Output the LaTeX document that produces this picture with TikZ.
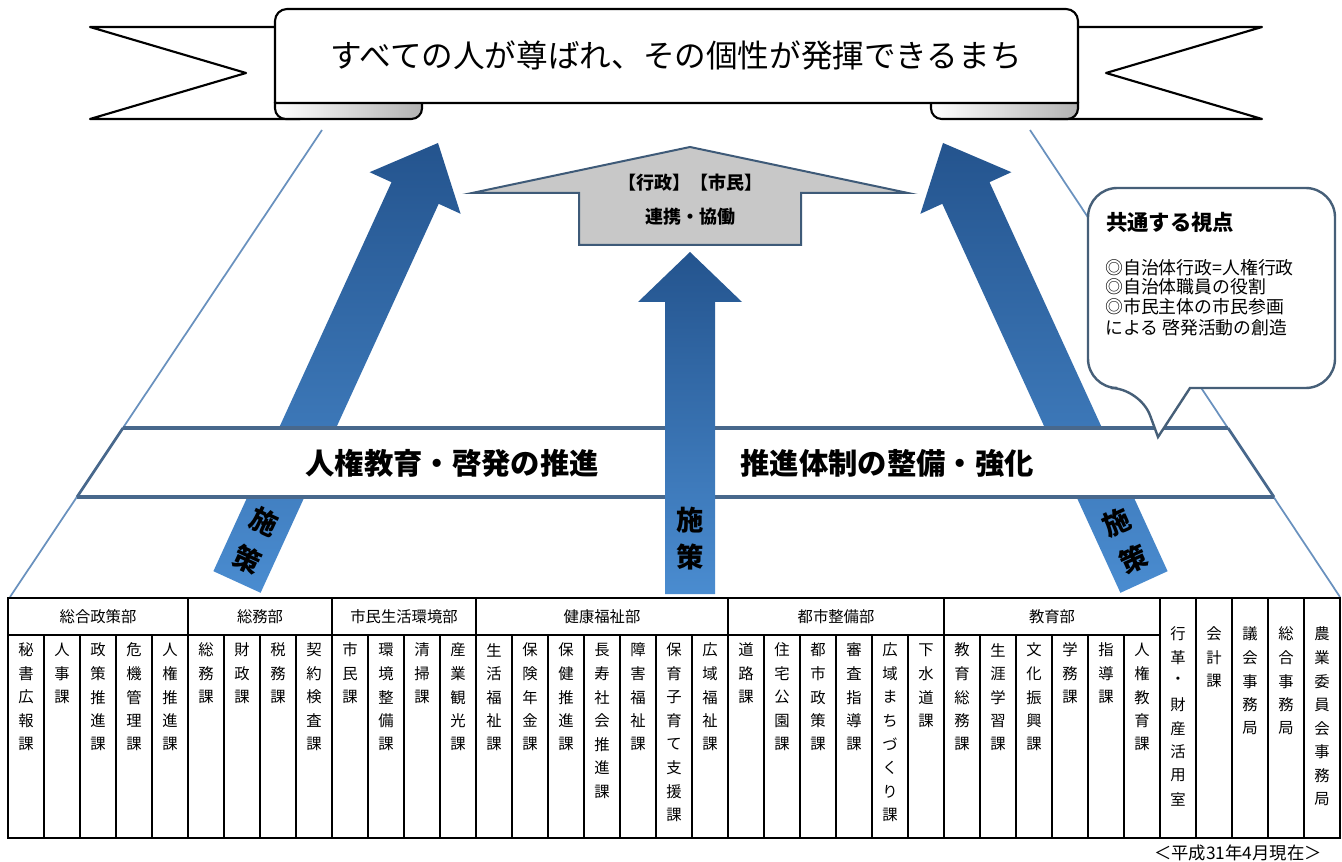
\documentclass[tikz,border=0pt]{standalone}
\usepackage{fontspec}
\setmainfont{Noto Sans CJK JP}
\definecolor{bandline}{RGB}{72,104,140}
\definecolor{lightline}{RGB}{105,145,190}
\definecolor{arrowtop}{RGB}{36,84,142}
\definecolor{arrowbot}{RGB}{74,140,208}
\definecolor{housefill}{RGB}{200,200,200}
\definecolor{houseline}{RGB}{62,90,120}
\definecolor{calloutline}{RGB}{70,95,120}
\begin{document}
\begin{tikzpicture}[x=0.75pt,y=-0.75pt,
  lite/.style={draw=lightline, line width=1.3pt},
  bandedge/.style={draw=bandline, line width=3pt},
  bandside/.style={draw=bandline, line width=2pt},
  bluearrow/.style={top color=arrowtop, bottom color=arrowbot, draw=none},
  house/.style={fill=housefill, draw=houseline, line width=1.5pt},
  callout/.style={fill=white, draw=calloutline, line width=1.8pt},
  ban/.style={fill=white, draw=black, line width=1.6pt, line join=round},
  fold/.style={left color=white, right color=black!30, draw=black, line width=1.6pt},
  gridline/.style={draw=black, line width=1.1pt},
  cell/.style={inner sep=0pt, font=\fontsize{11.5}{13}\selectfont},
  hdr/.style={inner sep=0pt, font=\fontsize{11.5}{13}\selectfont},
  shisaku/.style={inner sep=0pt, font=\bfseries\fontsize{20.5}{22}\selectfont},
  bandtext/.style={inner sep=0pt, font=\bfseries\fontsize{22}{24}\selectfont},
  calltext/.style={inner sep=0pt, anchor=west, font=\fontsize{13.4}{15}\selectfont},
]
\useasboundingbox (0,0) rectangle (1342,862);
\fill[white] (0,0) rectangle (1342,862);

% pyramid side lines
\coordinate (lt) at (322,130); \coordinate (lb) at (10,597);
\coordinate (rt) at (1030,130); \coordinate (rb) at (1340,597);
\draw[lite] (lt) -- (lb);
\draw[lite] (rt) -- (rb);

% slanted arrows (behind band)
\path[bluearrow] (213.4,571.2) -- (391.5,182.2) -- (369.6,172.2) -- (438,143) -- (460.6,213.8) -- (438.7,203.8) -- (260.6,592.8) -- cycle;
\path[bluearrow] (1167.6,571.2) -- (989.5,182.2) -- (1011.4,172.2) -- (943,143) -- (920.4,213.8) -- (942.3,203.8) -- (1120.4,592.8) -- cycle;

% band
\coordinate (b1) at (123,428); \coordinate (b2) at (1228,428);
\coordinate (b3) at (1274,497); \coordinate (b4) at (77,497);
\fill[white] (b1) -- (b2) -- (b3) -- (b4) -- cycle;
\draw[bandside] (b1) -- (b4);
\draw[bandside] (b2) -- (b3);
\draw[bandedge] (b1) -- (b2);
\draw[bandedge] (b4) -- (b3);

% centre arrow (over band)
\path[bluearrow] (665,594) -- (665,302) -- (638,302) -- (690,252) -- (742,302) -- (715,302) -- (715,594) -- cycle;

% house
\draw[house] (690,147) -- (908,193) -- (801,193) -- (801,245) -- (579,245) -- (579,193) -- (472,193) -- cycle;
\node[inner sep=0pt, font=\bfseries\fontsize{13.5}{15}\selectfont] (h1) at (690,183) {【行政】【市民】};
\node[inner sep=0pt, font=\bfseries\fontsize{13.5}{15}\selectfont] (h2) at (690,217) {連携・協働};

% callout
\draw[callout] (1260,388) [rounded corners=22] -- (1335,388) -- (1335,188) -- (1088,188) -- (1088,388) -- (1140,388) [sharp corners] -- (1158,437) -- (1190,388) -- cycle;
\node[inner sep=0pt, anchor=west, font=\bfseries\fontsize{16}{18}\selectfont] (c0) at (1106,222) {共通する視点};
\node[calltext] (c1) at (1105,268) {◎自治体行政=人権行政};
\node[calltext] (c2) at (1105,287) {◎自治体職員の役割};
\node[calltext] (c3) at (1105,307) {◎市民主体の市民参画};
\node[calltext] (c4) at (1105,328) {による 啓発活動の創造};

% banner
\draw[ban] (90,27) -- (300,27) -- (300,119) -- (90,119) -- (246,73) -- cycle;
\draw[ban] (1262,27) -- (1050,27) -- (1050,119) -- (1262,119) -- (1106,73) -- cycle;
\draw[fold, rounded corners=8] (275,92) rectangle (422,119);
\draw[fold, rounded corners=8] (931,92) rectangle (1078,119);
\draw[ban] (275,103) [rounded corners=9] -- (275,9) -- (1078,9) [sharp corners] -- (1078,103) -- cycle;
\node[inner sep=0pt, font=\fontsize{23.7}{26}\selectfont] (title) at (676,55) {すべての人が尊ばれ、その個性が発揮できるまち};

% band texts
\node[bandtext] (bt1) at (452,463) {人権教育・啓発の推進};
\node[bandtext] (bt2) at (887,463) {推進体制の整備・強化};

% 施策 labels
\node[shisaku, rotate=-24.6] (sl1) at (264.5,522) {施};
\node[shisaku, rotate=-24.6] (sl2) at (247.4,559.3) {策};
\node[shisaku] (sc1) at (690,520) {施};
\node[shisaku] (sc2) at (690,557) {策};
\node[shisaku, rotate=24.6] (sr1) at (1116.5,522) {施};
\node[shisaku, rotate=24.6] (sr2) at (1133.6,559.3) {策};

% table grid
\draw[gridline] (8,598) rectangle (1340,838);
\draw[gridline] (8,635) -- (1160,635);
\foreach \i in {5,9,13,20,26,32,33,34,35,36}
  \draw[gridline] (8+36*\i,598) -- (8+36*\i,838);
\foreach \i in {1,2,3,4,6,7,8,10,11,12,14,15,16,17,18,19,21,22,23,24,25,27,28,29,30,31}
  \draw[gridline] (8+36*\i,635) -- (8+36*\i,838);

% headers
\node[hdr] (d1) at (98,617) {総合政策部};
\node[hdr] (d2) at (260,617) {総務部};
\node[hdr] (d3) at (404,617) {市民生活環境部};
\node[hdr] (d4) at (602,617) {健康福祉部};
\node[hdr] (d5) at (836,617) {都市整備部};
\node[hdr] (d6) at (1052,617) {教育部};

% columns
\foreach \i/\lst in {
  0/{秘,書,広,報,課}, 1/{人,事,課}, 2/{政,策,推,進,課}, 3/{危,機,管,理,課}, 4/{人,権,推,進,課},
  5/{総,務,課}, 6/{財,政,課}, 7/{税,務,課}, 8/{契,約,検,査,課},
  9/{市,民,課}, 10/{環,境,整,備,課}, 11/{清,掃,課}, 12/{産,業,観,光,課},
  13/{生,活,福,祉,課}, 14/{保,険,年,金,課}, 15/{保,健,推,進,課}, 16/{長,寿,社,会,推,進,課},
  17/{障,害,福,祉,課}, 18/{保,育,子,育,て,支,援,課}, 19/{広,域,福,祉,課},
  20/{道,路,課}, 21/{住,宅,公,園,課}, 22/{都,市,政,策,課}, 23/{審,査,指,導,課},
  24/{広,域,ま,ち,づ,く,り,課}, 25/{下,水,道,課},
  26/{教,育,総,務,課}, 27/{生,涯,学,習,課}, 28/{文,化,振,興,課}, 29/{学,務,課}, 30/{指,導,課}, 31/{人,権,教,育,課},
  32/{行,革,・,財,産,活,用,室}, 33/{会,計,課}, 34/{議,会,事,務,局}, 35/{総,合,事,務,局}, 36/{農,業,委,員,会,事,務,局}}
{
  \pgfmathsetmacro\ys{\i>31 ? 634 : 650}
  \foreach \c [count=\k from 0] in \lst
    \node[cell] (t\i-\k) at (26+36*\i, \ys+23.6*\k) {\c};
}

\node[inner sep=0pt, anchor=east, font=\fontsize{13}{15}\selectfont] (foot) at (1322,853) {＜平成31年4月現在＞};
\end{tikzpicture}
\end{document}
